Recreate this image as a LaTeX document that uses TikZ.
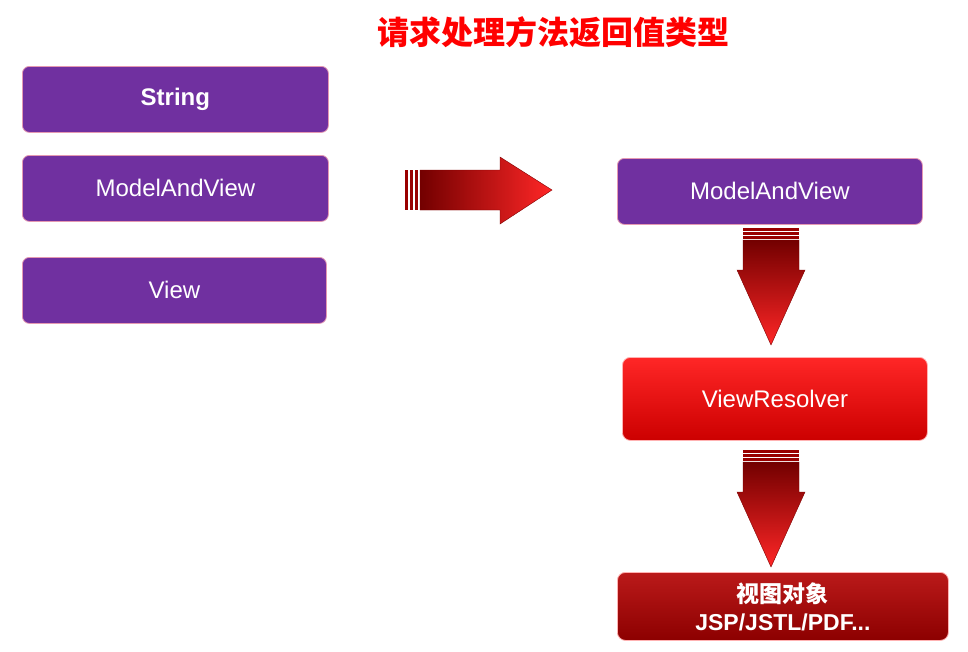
\documentclass[tikz,border=0pt]{standalone}
\usepackage{fontspec}
\setmainfont{Liberation Sans}
\newfontfamily\cjk{Noto Sans CJK SC}
\begin{document}
\begin{tikzpicture}[x=1pt,y=-1pt,
  pbox/.style={draw=purple!40!white,line width=0.8pt,rounded corners=7pt,fill={rgb,255:red,112;green,48;blue,160},
    text=white,font=\fontsize{24}{28}\selectfont,inner sep=0pt,anchor=north west},
  rbox/.style={draw=red!30,line width=0.8pt,rounded corners=8pt,top color=red!85!white,bottom color=red!80!black,
    text=white,font=\fontsize{24}{28}\selectfont,inner sep=0pt,anchor=north west}]
\useasboundingbox (0,0) rectangle (968,651);
\fill[white] (0,0) rectangle (968,651);
\node[red,font=\cjk\bfseries\fontsize{32}{36}\selectfont] (title) at (553,32) {请求处理方法返回值类型};
\node[pbox,minimum width=306,minimum height=66,font=\bfseries\fontsize{24}{28}\selectfont] (s) at (22,66) {String};
\node[pbox,minimum width=306,minimum height=66] (m1) at (22,155) {ModelAndView};
\node[pbox,minimum width=304,minimum height=66] (v) at (22,257) {View};
\node[pbox,minimum width=305,minimum height=66] (m2) at (617,158) {ModelAndView};
\node[rbox,minimum width=305,minimum height=83] (vr) at (622,357) {ViewResolver};
\node[rbox,minimum width=331,minimum height=68,top color=red!70!black!90,bottom color=red!55!black,
  font=\bfseries\fontsize{23}{28}\selectfont,align=center] (o) at (617,572) {{\cjk 视图对象}\\JSP/JSTL/PDF...};
% right arrow
\shade[left color=red!45!black,right color=red!85!white,draw=red!50!black]
  (420,170) -- (500,170) -- (500,157) -- (552,190) -- (500,224) -- (500,210) -- (420,210) -- cycle;
\foreach \x in {405,410,415}{\fill[red!60!black] (\x,170) rectangle (\x+3,210);}
% down arrows
\foreach \t in {228,450}{
  \shade[top color=red!45!black,bottom color=red!85!white,draw=red!50!black]
   (743,\t+12) -- (799,\t+12) -- (799,\t+42) -- (805,\t+42) -- (771,\t+117) -- (737,\t+42) -- (743,\t+42) -- cycle;
  \foreach \y in {0,4,8}{\fill[red!60!black] (743,\t+\y) rectangle (799,\t+\y+2.5);}
}
\end{tikzpicture}
\end{document}
